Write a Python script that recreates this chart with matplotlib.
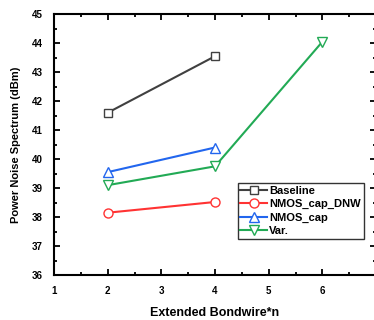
import matplotlib
matplotlib.use('Agg')
import matplotlib.pyplot as plt
from matplotlib.ticker import MultipleLocator

plt.rcParams['font.family'] = ['Liberation Sans', 'DejaVu Sans']
plt.rcParams['font.weight'] = 'bold'

x_short = [2, 4]
x_var = [2, 4, 6]
baseline = [41.6, 43.55]
nmos_dnw = [38.15, 38.52]
nmos_cap = [39.55, 40.4]
var = [39.1, 39.75, 44.05]

fig = plt.figure(figsize=(3.74, 3.2), dpi=100)
ax = fig.add_axes([0.1444, 0.1406, 0.861, 0.815])

ax.plot(x_short, baseline, color='#404040', marker='s', mfc='white', ms=6, lw=1.5, label='Baseline')
ax.plot(x_short, nmos_dnw, color='#ff3333', marker='o', mfc='white', ms=6.5, lw=1.5, label='NMOS_cap_DNW')
ax.plot(x_short, nmos_cap, color='#2266ee', marker='^', mfc='white', ms=7, lw=1.5, label='NMOS_cap')
ax.plot(x_var, var, color='#22aa55', marker='v', mfc='white', ms=7, lw=1.5, label='Var.')

ax.set_xlim(1, 7)
ax.set_ylim(36, 45)
ax.xaxis.set_major_locator(MultipleLocator(1))
ax.xaxis.set_minor_locator(MultipleLocator(0.5))
ax.yaxis.set_major_locator(MultipleLocator(1))
ax.yaxis.set_minor_locator(MultipleLocator(0.5))
ax.tick_params(which='both', direction='in', top=True, right=True, width=1.3, labelsize=7, pad=8)
ax.tick_params(which='major', length=4)
ax.tick_params(which='minor', length=2)
ax.set_xticks([1, 2, 3, 4, 5, 6])
ax.set_xticks([1.5, 2.5, 3.5, 4.5, 5.5, 6.5], minor=True)
for s in ax.spines.values():
    s.set_linewidth(1.5)

ax.set_xlabel('Extended Bondwire*n', fontsize=9, fontweight='bold', labelpad=8)
ax.set_ylabel('Power Noise Spectrum (dBm)', fontsize=8, fontweight='bold', labelpad=8)

leg = ax.legend(loc='upper left', bbox_to_anchor=(0.570, 0.352), fontsize=8, frameon=True,
                fancybox=False, edgecolor='black', handlelength=2.4, handletextpad=0.2,
                borderpad=0.25, labelspacing=0.3, borderaxespad=0)
leg.get_frame().set_linewidth(1.0)

fig.savefig('out.png', dpi=100)
